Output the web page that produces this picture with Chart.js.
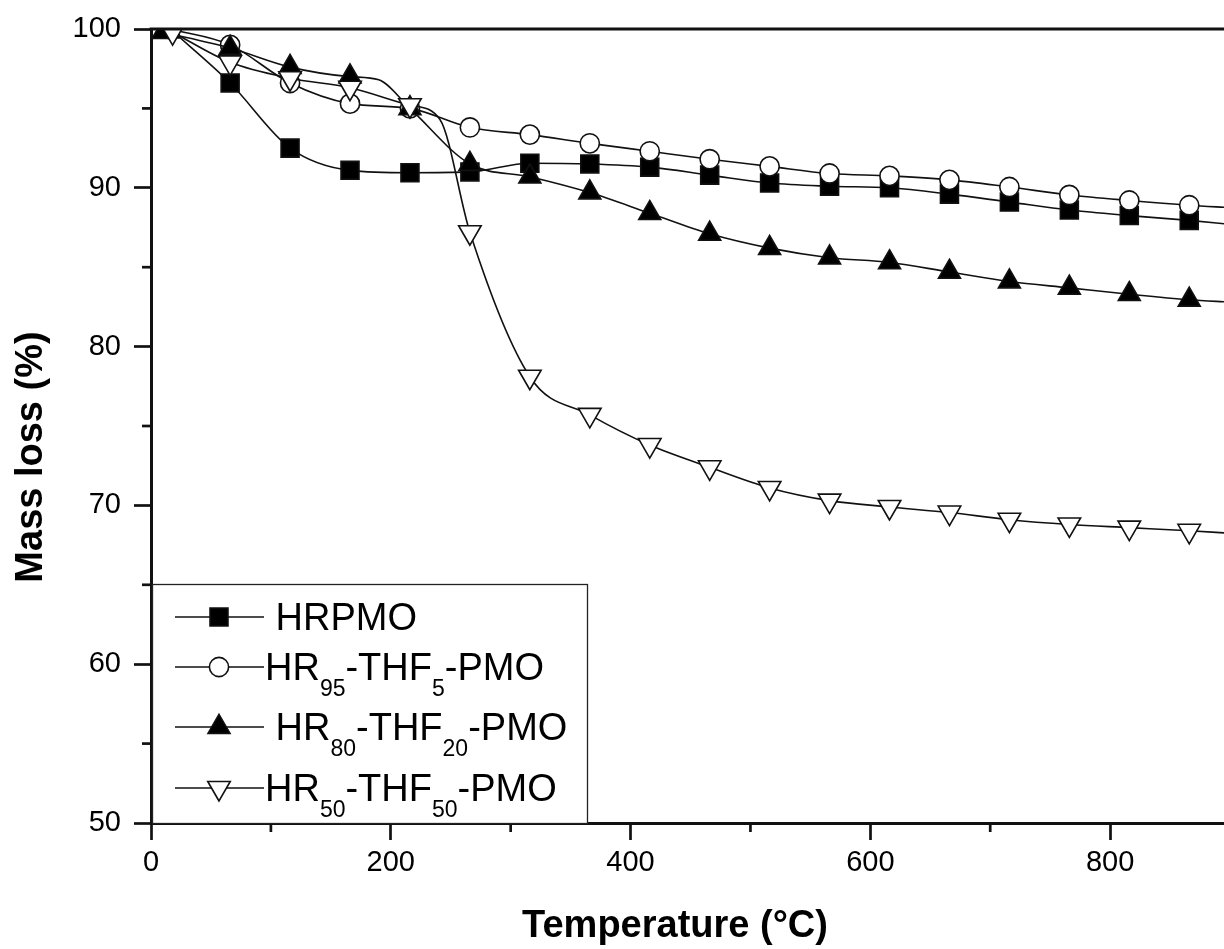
<!DOCTYPE html>
<html>
<head>
<meta charset="utf-8">
<script src="https://cdn.jsdelivr.net/npm/chart.js@4.4.1/dist/chart.umd.min.js"></script>
<style>
  html, body { margin: 0; padding: 0; background: #ffffff; }
  #wrap { width: 1224px; height: 949px; }
</style>
</head>
<body>
<div id="wrap"><canvas id="c" width="1224" height="949"></canvas></div>
<script>
// ---- data ----
const hrpmoTemps = [16, 66, 116, 166, 216, 266, 316, 366, 416, 466, 516, 566, 616, 666, 716, 766, 816, 866, 900];
const hrpmoMass  = [100, 96.6, 92.5, 91.1, 90.95, 91.0, 91.55, 91.5, 91.3, 90.8, 90.3, 90.1, 90.0, 89.6, 89.1, 88.6, 88.25, 87.95, 87.7];

const hr95Temps = [16, 66, 116, 166, 216, 266, 316, 366, 416, 466, 516, 566, 616, 666, 716, 766, 816, 866, 900];
const hr95Mass  = [100, 99.0, 96.6, 95.3, 95.0, 93.8, 93.35, 92.8, 92.3, 91.8, 91.35, 90.9, 90.75, 90.5, 90.05, 89.55, 89.2, 88.9, 88.75];

const hr80Temps = [10, 66, 116, 166, 190, 216, 266, 316, 366, 416, 466, 516, 566, 616, 666, 716, 766, 816, 866, 900];
const hr80Mass  = [99.8, 98.8, 97.6, 97.0, 96.8, 95.0, 91.5, 90.7, 89.7, 88.4, 87.1, 86.2, 85.6, 85.3, 84.7, 84.1, 83.7, 83.3, 82.95, 82.8];

const hr50Temps = [18, 66, 116, 166, 216, 241, 266, 316, 366, 416, 466, 516, 566, 616, 666, 716, 766, 816, 866, 900];
const hr50Mass  = [99.8, 97.9, 96.9, 96.3, 95.2, 94.3, 87.2, 78.1, 75.7, 73.8, 72.4, 71.1, 70.3, 69.9, 69.55, 69.1, 68.8, 68.6, 68.4, 68.25];

// temperatures of points on the curves that carry no symbol
const curveOnlyTemps = [190, 241, 900];

const seriesNames = ['HRPMO', 'HR95-THF5-PMO', 'HR80-THF20-PMO', 'HR50-THF50-PMO'];
// legend labels split into [text, isSubscript] pieces
const legendLabels = [
  [[' HRPMO', false]],
  [['HR', false], ['95', true], ['-THF', false], ['5', true], ['-PMO', false]],
  [[' HR', false], ['80', true], ['-THF', false], ['20', true], ['-PMO', false]],
  [['HR', false], ['50', true], ['-THF', false], ['50', true], ['-PMO', false]]
];

const xTitle = 'Temperature (°C)';
const yTitle = 'Mass loss (%)';
const xMin = 0, xMax = 895, xStep = 200, xMinorStep = 100;
const yMin = 50, yMax = 100, yStep = 10, yMinorStep = 5;

// ---- build ----
const FONT = '"Liberation Sans", Arial, Helvetica, sans-serif';
const INK = '#111111';

function pts(t, m) { return t.map((x, i) => ({ x: x, y: m[i] })); }

const styles = [
  { pointStyle: 'rect',     radius: 12.7, fill: '#000000', rotation: 0 },
  { pointStyle: 'circle',   radius: 9.6,  fill: '#ffffff', rotation: 0 },
  { pointStyle: 'triangle', radius: 12.7, fill: '#000000', rotation: 0 },
  { pointStyle: 'triangle', radius: 13,   fill: '#ffffff', rotation: 180 }
];

const rawSeries = [
  pts(hrpmoTemps, hrpmoMass),
  pts(hr95Temps, hr95Mass),
  pts(hr80Temps, hr80Mass),
  pts(hr50Temps, hr50Mass)
];

const datasets = rawSeries.map((d, i) => ({
  label: seriesNames[i],
  data: d,
  borderColor: INK,
  borderWidth: 1.6,
  backgroundColor: styles[i].fill,
  pointBackgroundColor: styles[i].fill,
  pointBorderColor: INK,
  pointBorderWidth: 1.6,
  pointStyle: styles[i].pointStyle,
  pointRotation: styles[i].rotation,
  pointRadius: (ctx) => (ctx.raw && curveOnlyTemps.includes(ctx.raw.x)) ? 0 : styles[i].radius,
  pointHoverRadius: (ctx) => (ctx.raw && curveOnlyTemps.includes(ctx.raw.x)) ? 0 : styles[i].radius,
  cubicInterpolationMode: 'monotone',
  fill: false,
  order: 4 - i
}));

const framePlugin = {
  id: 'frame',
  afterDraw(chart) {
    const ctx = chart.ctx;
    const a = chart.chartArea;
    const xs = chart.scales.x, ys = chart.scales.y;
    ctx.save();
    ctx.strokeStyle = INK;
    // top frame line
    ctx.lineWidth = 3;
    ctx.beginPath();
    ctx.moveTo(a.left - 1.5, a.top);
    ctx.lineTo(chart.width, a.top);
    ctx.stroke();
    // minor ticks
    ctx.lineWidth = 2.7;
    for (let v = xMin + xMinorStep; v <= xMax; v += xStep) {
      const px = xs.getPixelForValue(v);
      ctx.beginPath(); ctx.moveTo(px, a.bottom); ctx.lineTo(px, a.bottom + 9); ctx.stroke();
    }
    for (let v = yMin + yMinorStep; v < yMax; v += yStep) {
      const py = ys.getPixelForValue(v);
      ctx.beginPath(); ctx.moveTo(a.left, py); ctx.lineTo(a.left - 9, py); ctx.stroke();
    }

    // legend box
    const bx = a.left + 1, by = 584, bw = 587 - bx, bh = a.bottom - by;
    ctx.fillStyle = '#ffffff';
    ctx.fillRect(bx, by, bw, bh);
    ctx.lineWidth = 1.3;
    ctx.strokeStyle = '#222222';
    ctx.strokeRect(bx + 0.5, by + 0.5, bw, bh);

    const rowsY = [617, 667, 727, 788];
    legendLabels.forEach((pieces, i) => {
      const cy = rowsY[i];
      ctx.strokeStyle = INK;
      ctx.lineWidth = 1.6;
      ctx.beginPath(); ctx.moveTo(175, cy); ctx.lineTo(264, cy); ctx.stroke();
      ctx.fillStyle = styles[i].fill;
      ctx.strokeStyle = INK;
      ctx.lineWidth = 1.6;
      Chart.helpers.drawPoint(ctx, {
        pointStyle: styles[i].pointStyle,
        radius: styles[i].radius,
        rotation: styles[i].rotation,
        borderWidth: 1.6
      }, 219, cy);
      let tx = 265;
      const base = cy + 13;
      ctx.fillStyle = '#000000';
      ctx.textAlign = 'left';
      ctx.textBaseline = 'alphabetic';
      pieces.forEach(([txt, sub]) => {
        ctx.font = (sub ? '23px ' : '38px ') + FONT;
        ctx.fillText(txt, tx, sub ? base + 16 : base);
        tx += ctx.measureText(txt).width;
      });
    });

    // axis titles
    ctx.fillStyle = '#000000';
    ctx.font = 'bold 38px ' + FONT;
    ctx.textAlign = 'center';
    ctx.textBaseline = 'alphabetic';
    ctx.fillText(xTitle, 675, 937);
    ctx.save();
    ctx.translate(42, 457);
    ctx.rotate(-Math.PI / 2);
    ctx.fillText(yTitle, 0, 0);
    ctx.restore();
    ctx.restore();
  }
};

new Chart(document.getElementById('c'), {
  type: 'line',
  data: { datasets: datasets },
  options: {
    responsive: false,
    animation: false,
    events: [],
    layout: { padding: { top: 29, right: 0, bottom: 0, left: 0 }, autoPadding: false },
    plugins: { legend: { display: false }, tooltip: { enabled: false } },
    scales: {
      x: {
        type: 'linear',
        min: xMin, max: xMax,
        afterFit(scale) { scale.height = 126; scale.paddingLeft = 0; scale.paddingRight = 0; },
        border: { display: true, color: INK, width: 3 },
        grid: { drawOnChartArea: false, drawTicks: true, tickLength: 17, tickWidth: 2.7, tickColor: INK },
        ticks: { stepSize: xStep, includeBounds: false, color: '#000000', padding: 6, maxRotation: 0,
                 font: { family: FONT, size: 29 } },
        title: { display: false }
      },
      y: {
        type: 'linear',
        min: yMin, max: yMax,
        afterFit(scale) { scale.width = 151; scale.paddingTop = 0; scale.paddingBottom = 0; },
        border: { display: true, color: INK, width: 3 },
        grid: { drawOnChartArea: false, drawTicks: true, tickLength: 17, tickWidth: 2.7, tickColor: INK },
        ticks: { stepSize: yStep, color: '#000000', padding: 13, font: { family: FONT, size: 29 } },
        title: { display: false }
      }
    }
  },
  plugins: [framePlugin]
});
</script>
</body>
</html>
